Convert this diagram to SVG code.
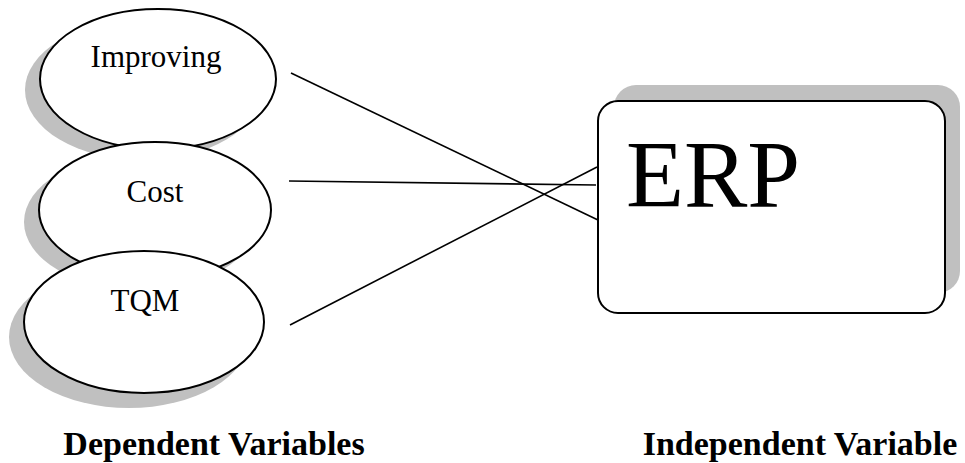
<svg xmlns="http://www.w3.org/2000/svg" width="965" height="463" viewBox="0 0 965 463">
<style>
.shadow{fill:#c0c0c0;stroke:none}
.shape{fill:#fff;stroke:#000;stroke-width:2}
.lbl{font-family:"Liberation Serif","Times New Roman",serif;fill:#000;text-anchor:middle}
.conn line{stroke:#000;stroke-width:1.6}
.cap{font-family:"Liberation Serif","Times New Roman",serif;font-weight:bold;font-size:34px;fill:#000;text-anchor:middle}
</style>
<rect width="965" height="463" fill="#fff"/>
<g id="node-improving">
<ellipse class="shadow" cx="143" cy="90" rx="118" ry="70"/>
<ellipse class="shape" cx="158" cy="79" rx="118" ry="70"/>
<text class="lbl" x="156" y="67" font-size="31">Improving</text>
</g>
<g id="node-cost">
<ellipse class="shadow" cx="140" cy="222" rx="116" ry="68"/>
<ellipse class="shape" cx="155" cy="210" rx="116" ry="68"/>
<text class="lbl" x="155" y="202" font-size="31">Cost</text>
</g>
<g id="node-tqm">
<ellipse class="shadow" cx="129" cy="337" rx="120" ry="71"/>
<ellipse class="shape" cx="144" cy="322" rx="120" ry="71"/>
<text class="lbl" x="145" y="311" font-size="31">TQM</text>
</g>
<g id="node-erp">
<rect class="shadow" x="614" y="85" width="346" height="208" rx="22"/>
<rect class="shape" x="598" y="101" width="347" height="212" rx="20"/>
<text class="lbl" x="713" y="207" font-size="95">ERP</text>
</g>
<g id="connectors" class="conn">
<line x1="291" y1="73" x2="598" y2="220"/>
<line x1="289" y1="181" x2="596" y2="185"/>
<line x1="290" y1="325" x2="597" y2="167"/>
</g>
<text class="cap" x="214" y="455">Dependent Variables</text>
<text class="cap" x="800" y="455">Independent Variable</text>
</svg>
